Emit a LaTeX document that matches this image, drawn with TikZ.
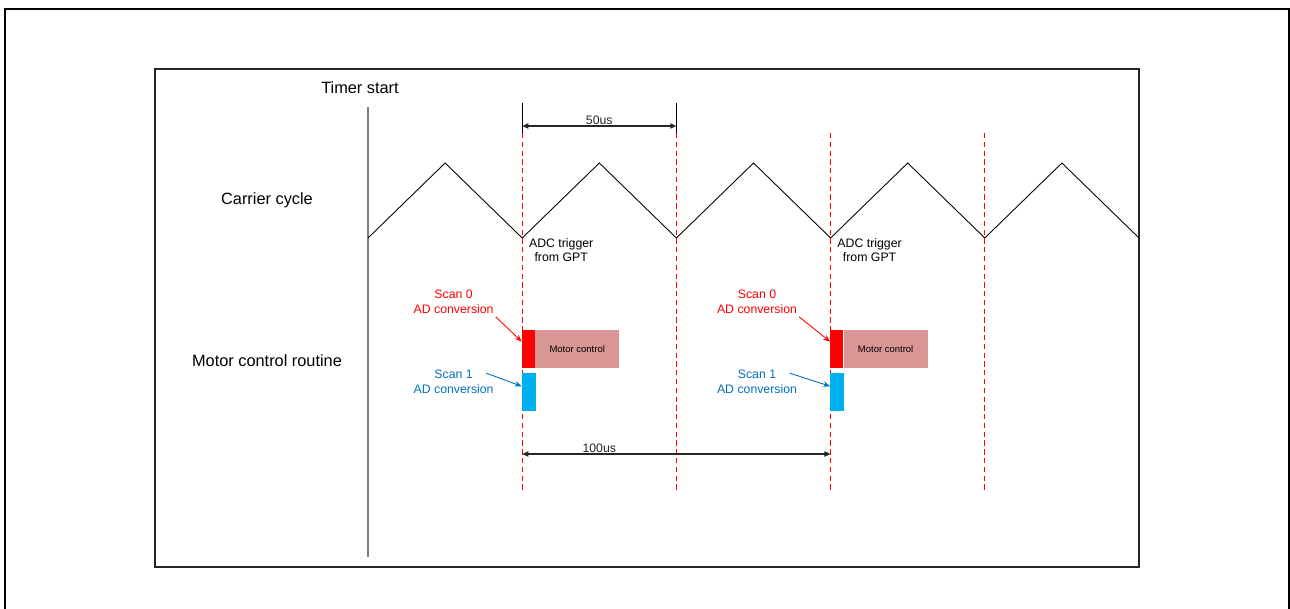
\documentclass[tikz,border=0pt]{standalone}
\usepackage{fontspec}
\setmainfont{Liberation Sans}
\usepackage{xcolor}
\usetikzlibrary{arrows.meta, positioning, calc}
\definecolor{scanred}{HTML}{FF0000}
\definecolor{scanblue}{HTML}{00B0F0}
\definecolor{bluetext}{HTML}{0070C0}
\definecolor{motorfill}{HTML}{D99694}
\definecolor{frameline}{HTML}{262626}
\definecolor{timerline}{HTML}{808080}

\begin{document}
\begin{tikzpicture}[
    x=0.02cm, y=-0.02cm,
    >=Stealth,
    lbl/.style={font=\fontsize{9.3}{11}\selectfont, inner sep=1pt},
    note/.style={font=\fontsize{7}{8.4}\selectfont, align=center, inner sep=1pt},
    blk/.style={minimum height=7.6mm, inner sep=0pt, draw=none},
    redblk/.style={blk, fill=scanred, minimum width=2.5mm},
    blueblk/.style={blk, fill=scanblue, minimum width=2.7mm},
    motor/.style={blk, fill=motorfill, minimum width=16.8mm, font=\fontsize{5.4}{6}\selectfont},
    trig/.style={scanred, dashed, dash pattern=on 3pt off 2pt, line width=0.5pt},
    dim/.style={{Triangle[length=3.5pt,width=3pt]}-{Triangle[length=3.5pt,width=3pt]}, line width=0.6pt, black!85},
    callout/.style={->, line width=0.5pt, >={Stealth[length=4pt,width=3.2pt]}}]

  \useasboundingbox (0,0) rectangle (1290,608);

  % Frames: outer one runs off the bottom of the page.
  \draw[line width=1.2pt, line cap=rect] (5,608) -- (5,9) -- (1289,9) -- (1289,608);
  \draw[frameline, line width=1.1pt] (155,69) rectangle (1139,567);

  % Row labels.
  \node[lbl] (tstart) at (360,88) {Timer start};
  \node[lbl] (carrier) at (267,200) {Carrier cycle};
  \node[lbl] (routine) at (267,361) {Motor control routine};
  \coordinate (t0top) at (368,107);
  \coordinate (t0bot) at (368,557);
  \draw[timerline, line width=0.8pt] (t0top) -- (t0bot);

  % Carrier: five triangles, troughs are the trigger points.
  \draw[line width=0.5pt] (368,238)
    \foreach \k in {1,...,5} { -- ++(77.1,-75) -- ++(77.1,75) coordinate (c\k) };
  \foreach \k in {1,...,4}
    \draw[trig] (c\k |- 0,133) -- (c\k |- 0,490);

  % 50us between the first two triggers.
  \coordinate (m1) at (c1 |- 0,103);
  \coordinate (m2) at (c2 |- 0,103);
  \draw[line width=0.6pt] (m1) -- ++(0,30);
  \draw[line width=0.6pt] (m2) -- ++(0,30);
  \draw[dim] ($(m1)+(0,23)$) -- ($(m2)+(0,23)$)
    node[midway, above, note, inner sep=0.3pt] {50us};

  % Conversion and control blocks at every second trigger.
  \foreach \t/\n/\off in {c1/a/5.3mm, c3/b/6.3mm} {
    \node[redblk, anchor=north west] (sc0\n) at ([xshift=-0.1mm]\t |- 0,330) {};
    \node[motor, right=0pt of sc0\n] (mc\n) {Motor control};
    \node[blueblk, anchor=north west] (sc1\n) at ([yshift=-0.8mm]sc0\n.south west) {};
    \node[note] (adc\n) at ([xshift=7.8mm]\t |- 0,250) {ADC trigger\\from GPT};
    \node[note, text=scanred, anchor=east] (l0\n) at ([xshift=-\off]\t |- 0,302) {Scan 0\\AD conversion};
    \node[note, text=bluetext, anchor=east] (l1\n) at ([xshift=-\off]\t |- 0,382) {Scan 1\\AD conversion};
    \draw[callout, scanred] ([yshift=-0.2mm]l0\n.south east)
      -- ($(sc0\n.north west)!0.3!(sc0\n.south west)$);
    \draw[callout, bluetext] ([xshift=-1.9mm,yshift=-1mm]l1\n.north east)
      -- ($(sc1\n.north west)!0.35!(sc1\n.south west)$);
  }

  % 100us from one routine start to the next.
  \draw[dim] (c1 |- 0,454) -- (c3 |- 0,454)
    node[pos=0.25, above, note, inner sep=0.3pt] {100us};
\end{tikzpicture}
\end{document}
